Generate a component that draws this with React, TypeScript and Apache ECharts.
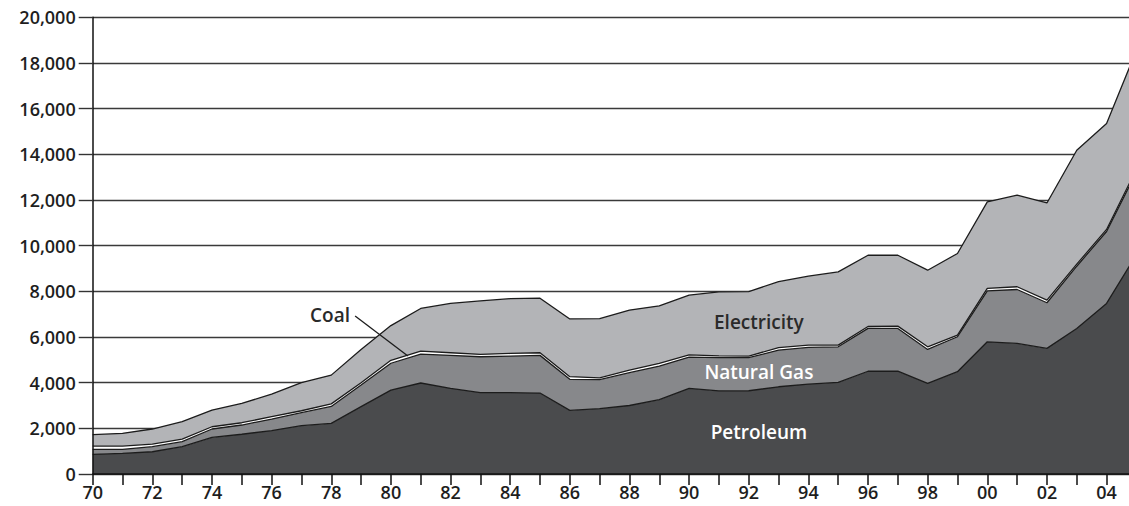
import React, { useEffect, useRef } from "react";
import * as echarts from "echarts";

const years = ["70","71","72","73","74","75","76","77","78","79","80","81","82","83","84","85","86","87","88","89","90","91","92","93","94","95","96","97","98","99","00","01","02","03","04","05"];

const petroleum = [860, 905, 975, 1195, 1600, 1740, 1900, 2115, 2215, 2950, 3675, 3985, 3750, 3565, 3565, 3545, 2785, 2865, 3000, 3255, 3750, 3640, 3645, 3820, 3940, 4010, 4500, 4505, 3970, 4480, 5790, 5720, 5500, 6375, 7470, 9600];
const naturalGas = [220, 175, 220, 220, 370, 405, 505, 570, 745, 950, 1175, 1265, 1445, 1570, 1600, 1650, 1360, 1265, 1435, 1470, 1370, 1460, 1450, 1605, 1605, 1560, 1875, 1870, 1485, 1530, 2230, 2360, 2000, 2725, 3150, 3630];
const coal = [145, 145, 115, 115, 100, 100, 105, 85, 110, 100, 130, 130, 115, 100, 115, 115, 115, 80, 115, 115, 100, 70, 70, 105, 100, 75, 85, 100, 115, 70, 105, 120, 115, 90, 90, 120];
const electricity = [495, 555, 660, 760, 730, 845, 990, 1230, 1260, 1450, 1520, 1870, 2160, 2345, 2400, 2390, 2530, 2590, 2630, 2525, 2610, 2810, 2825, 2890, 3020, 3205, 3120, 3105, 3355, 3575, 3790, 4010, 4255, 4990, 4635, 5200];

const yMin = 0;
const yMax = 20000;
const yStep = 2000;

const FONT = "'Open Sans', 'Noto Sans', sans-serif";

export default function App() {
  const ref = useRef<HTMLDivElement>(null);

  useEffect(() => {
    const chart = echarts.init(ref.current!, null, { renderer: "svg" });
    const lineStyle = { color: "#1c1c1c", width: 1.3 };
    const mk = (name: string, data: number[], color: string) => ({
      name,
      type: "line",
      stack: "total",
      data,
      symbol: "none",
      showSymbol: false,
      lineStyle,
      areaStyle: { color, opacity: 1 },
      emphasis: { disabled: true },
      z: 2,
    });
    const axisLabelStyle = { color: "#1e1e1e", fontFamily: FONT, fontWeight: 600 };
    chart.setOption({
      animation: false,
      backgroundColor: "#fff",
      grid: { left: 92.7, right: 3.6, top: 17.3, bottom: 32 },
      xAxis: {
        type: "category",
        data: years,
        boundaryGap: false,
        z: 5,
        axisLine: { lineStyle: { color: "#111", width: 1.5 } },
        axisTick: { interval: 0, length: 11, lineStyle: { color: "#111", width: 1.5 } },
        axisLabel: { ...axisLabelStyle, interval: 1, margin: 9, fontSize: 18, lineHeight: 18 },
        splitLine: { show: false },
      },
      yAxis: [
        {
          type: "value",
          min: yMin,
          max: yMax,
          interval: yStep,
          z: 0,
          axisLine: { show: false },
          axisTick: { show: false },
          axisLabel: { show: false },
          splitLine: { show: true, lineStyle: { color: "#3a3a3a", width: 1.4 } },
        },
        {
          type: "value",
          min: yMin,
          max: yMax,
          interval: yStep,
          position: "left",
          z: 5,
          axisLine: { show: true, lineStyle: { color: "#111", width: 1.5 } },
          axisTick: { show: true, length: 14, lineStyle: { color: "#333", width: 1.4 } },
          axisLabel: {
            ...axisLabelStyle,
            fontSize: 18,
            margin: 17,
            formatter: (v: number) => v.toLocaleString("en-US"),
          },
          splitLine: { show: false },
        },
      ],
      series: [
        mk("Petroleum", petroleum, "#4a4b4d"),
        mk("Natural Gas", naturalGas, "#87888b"),
        mk("Coal", coal, "#ffffff"),
        mk("Electricity", electricity, "#b3b4b7"),
      ],
    });

    // map year (fractional) and value to pixels via the chart's own scales
    const a = chart.convertToPixel({ gridIndex: 0 }, [0, 0]) as number[];
    const b = chart.convertToPixel({ gridIndex: 0 }, [1, 2000]) as number[];
    const px = (yr: number, v: number) => [
      a[0] + (yr - 1970) * (b[0] - a[0]),
      a[1] + (v / 2000) * (b[1] - a[1]),
    ];

    const labelAnchors = [
      { text: "Electricity", yr: 1992.34, v: 6650, fill: "#2a2a2a", align: "center" },
      { text: "Natural Gas", yr: 1992.34, v: 4460, fill: "#ffffff", align: "center" },
      { text: "Petroleum", yr: 1992.34, v: 1840, fill: "#ffffff", align: "center" },
      { text: "Coal", yr: 1978.63, v: 6960, fill: "#2a2a2a", align: "right" },
    ];
    const l1 = px(1978.8, 6915);
    const l2 = px(1980.57, 5165);

    chart.setOption({
      graphic: [
        ...labelAnchors.map((l) => {
          const p = px(l.yr, l.v);
          return {
            type: "text",
            x: p[0],
            y: p[1],
            z: 10,
            style: {
              text: l.text,
              fill: l.fill,
              font: `600 19px ${FONT}`,
              textAlign: l.align,
              textVerticalAlign: "middle",
            },
          };
        }),
        {
          type: "line",
          z: 10,
          shape: { x1: l1[0], y1: l1[1], x2: l2[0], y2: l2[1] },
          style: { stroke: "#1c1c1c", lineWidth: 1.3 },
        },
      ],
    });

    return () => chart.dispose();
  }, []);

  return (
    <div
      style={{
        position: "fixed",
        left: 0,
        top: 0,
        width: 1129,
        height: 506,
        overflow: "hidden",
        background: "#fff",
      }}
    >
      <div ref={ref} style={{ width: 1140, height: 506 }} />
    </div>
  );
}
